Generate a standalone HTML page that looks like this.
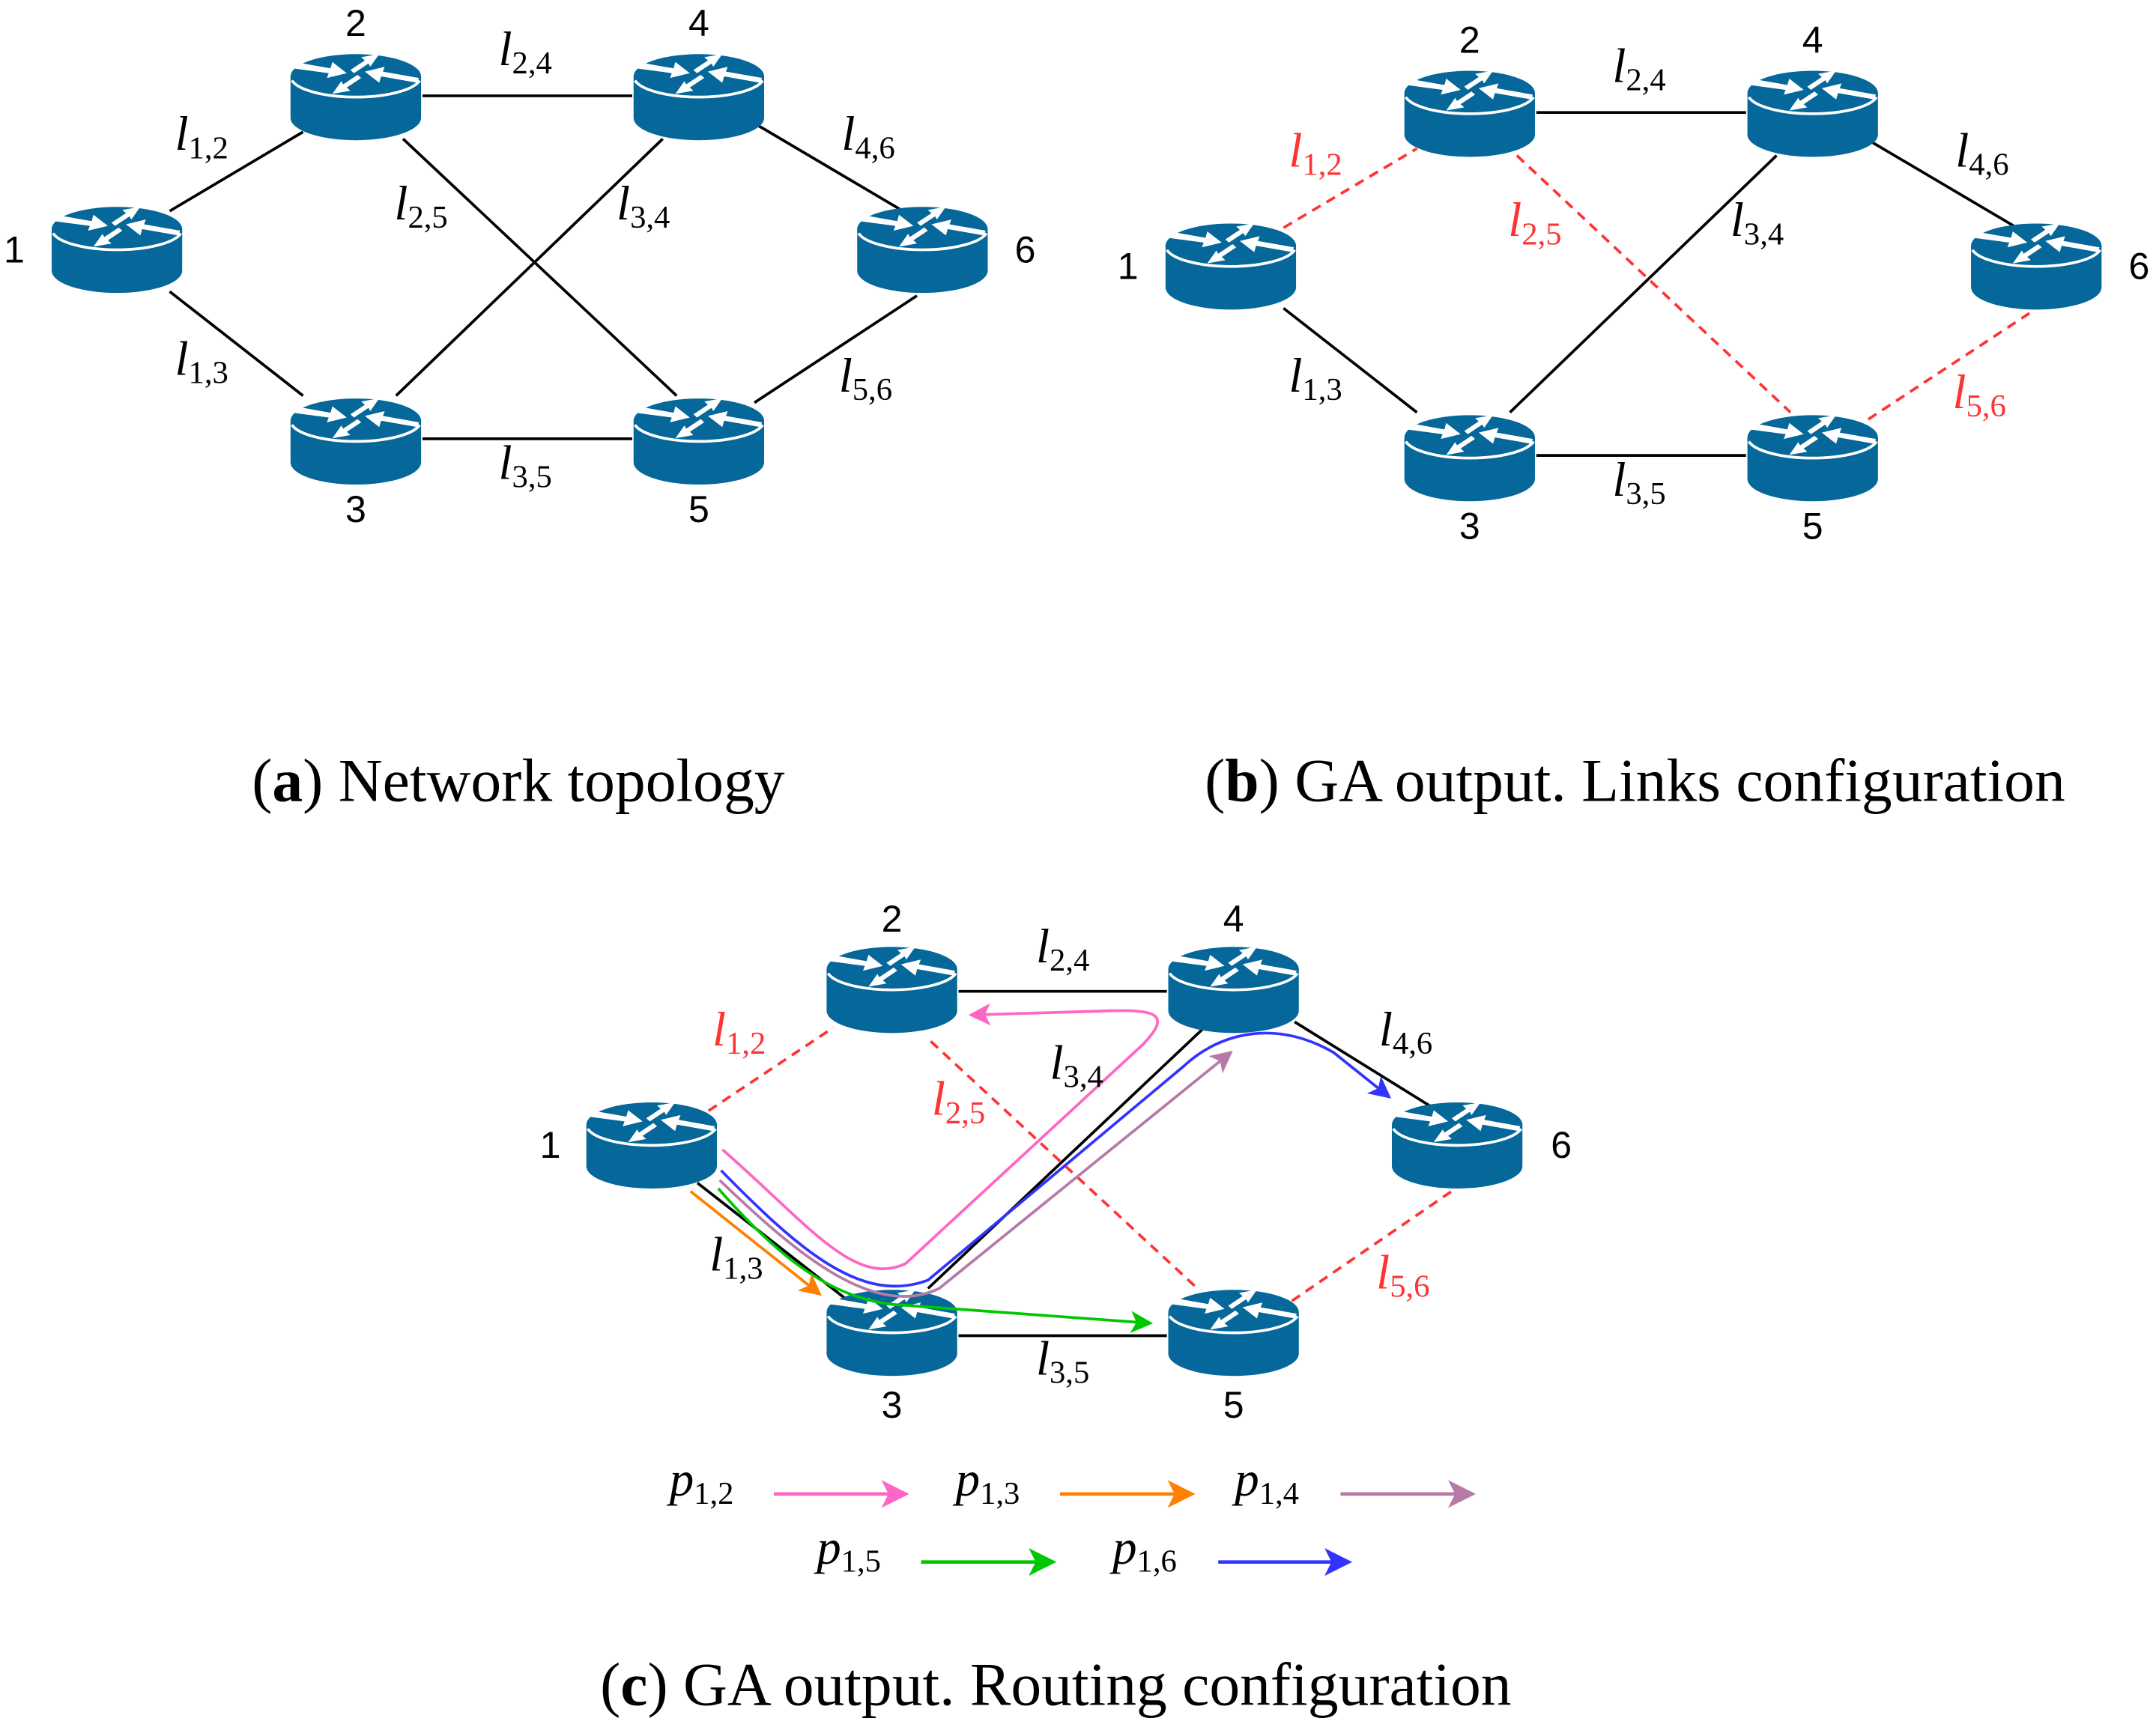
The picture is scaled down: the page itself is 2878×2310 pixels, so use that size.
<!DOCTYPE html>
<html><head><meta charset="utf-8"><style>
html,body{margin:0;padding:0;background:#fff;}
svg{display:block;}
.n{font-family:"Liberation Sans",sans-serif;font-size:27px;text-anchor:middle;}
.l{font-family:"Liberation Serif",serif;font-style:italic;font-size:35px;text-anchor:middle;}
.s{font-style:normal;font-size:23px;}
.cap{font-family:"Liberation Serif",serif;font-size:44px;text-anchor:middle;}
.r{fill:#ff3333;}
</style></head><body>
<svg width="2878" height="2310" viewBox="0 0 1552 1246" xmlns="http://www.w3.org/2000/svg">
<defs>
<g id="rt">
<path d="M-47,0 L-47,30 A47,16 0 0 0 47,30 L47,0 Z" fill="#05679a"/>
<ellipse cx="0" cy="0" rx="47" ry="16" fill="#05679a"/>
<path d="M-46,3 A47,15 0 0 0 46,3" fill="none" stroke="#fff" stroke-width="2"/>
<g fill="#fff" stroke="none" transform="scale(1.3,1.15)">
<path d="M-34,-9 L-14,-5 L-13,-9 L-5,-2 L-16,1 L-15,-2 L-35,-5 Z"/>
<path d="M34,4 L14,0 L13,4 L5,-3 L16,-6 L15,-3 L35,1 Z"/>
<path d="M-3,-4 L5,-10 L3,-12 L13,-14 L8,-6 L7,-8 L-1,-2 Z"/>
<path d="M3,1 L-5,7 L-3,9 L-13,11 L-8,3 L-7,5 L1,-1 Z"/>
</g>
</g>
<marker id="aP" markerWidth="8" markerHeight="8" refX="7" refY="4" orient="auto" markerUnits="strokeWidth"><path d="M0,0 L8,4 L0,8 L2,4 Z" fill="#ff66c4"/></marker>
<marker id="aO" markerWidth="8" markerHeight="8" refX="7" refY="4" orient="auto" markerUnits="strokeWidth"><path d="M0,0 L8,4 L0,8 L2,4 Z" fill="#ff8000"/></marker>
<marker id="aU" markerWidth="8" markerHeight="8" refX="7" refY="4" orient="auto" markerUnits="strokeWidth"><path d="M0,0 L8,4 L0,8 L2,4 Z" fill="#b77aa8"/></marker>
<marker id="aG" markerWidth="8" markerHeight="8" refX="7" refY="4" orient="auto" markerUnits="strokeWidth"><path d="M0,0 L8,4 L0,8 L2,4 Z" fill="#00c800"/></marker>
<marker id="aB" markerWidth="8" markerHeight="8" refX="7" refY="4" orient="auto" markerUnits="strokeWidth"><path d="M0,0 L8,4 L0,8 L2,4 Z" fill="#3333ff"/></marker>
</defs>

<!-- Panel a -->
<g stroke="#000" stroke-width="2" fill="none">
<line x1="122" y1="152" x2="218" y2="95"/>
<line x1="122" y1="210" x2="218" y2="285"/>
<line x1="304" y1="69" x2="455" y2="69"/>
<line x1="304" y1="316" x2="455" y2="316"/>
<line x1="290" y1="100" x2="487" y2="285"/>
<line x1="285" y1="285" x2="477" y2="100"/>
<line x1="545" y1="90" x2="650" y2="152"/>
<line x1="543" y1="290" x2="660" y2="213"/>
</g>
<use href="#rt" x="84" y="165"/><use href="#rt" x="256" y="55"/><use href="#rt" x="503" y="55"/>
<use href="#rt" x="664" y="165"/><use href="#rt" x="256" y="303"/><use href="#rt" x="503" y="303"/>
<text class="n" x="256" y="26">2</text><text class="n" x="503" y="26">4</text>
<text class="n" x="10" y="189">1</text><text class="n" x="738" y="189">6</text>
<text class="n" x="256" y="376">3</text><text class="n" x="503" y="376">5</text>
<text class="l" x="145" y="108">l<tspan class="s" dy="6">1,2</tspan></text>
<text class="l" x="378" y="47">l<tspan class="s" dy="6">2,4</tspan></text>
<text class="l" x="625" y="108">l<tspan class="s" dy="6">4,6</tspan></text>
<text class="l" x="303" y="158">l<tspan class="s" dy="6">2,5</tspan></text>
<text class="l" x="463" y="158">l<tspan class="s" dy="6">3,4</tspan></text>
<text class="l" x="145" y="270">l<tspan class="s" dy="6">1,3</tspan></text>
<text class="l" x="378" y="345">l<tspan class="s" dy="6">3,5</tspan></text>
<text class="l" x="623" y="282">l<tspan class="s" dy="6">5,6</tspan></text>

<!-- Panel b -->
<g transform="translate(802,12)">
<g stroke="#000" stroke-width="2" fill="none">
<line x1="122" y1="210" x2="218" y2="285"/>
<line x1="304" y1="69" x2="455" y2="69"/>
<line x1="304" y1="316" x2="455" y2="316"/>
<line x1="285" y1="285" x2="477" y2="100"/>
<line x1="545" y1="90" x2="650" y2="152"/>
</g>
<g stroke="#ff3333" stroke-width="2" stroke-dasharray="7,5" fill="none">
<line x1="122" y1="152" x2="218" y2="95"/>
<line x1="290" y1="100" x2="487" y2="285"/>
<line x1="543" y1="290" x2="660" y2="213"/>
</g>
<use href="#rt" x="84" y="165"/><use href="#rt" x="256" y="55"/><use href="#rt" x="503" y="55"/>
<use href="#rt" x="664" y="165"/><use href="#rt" x="256" y="303"/><use href="#rt" x="503" y="303"/>
<text class="n" x="256" y="26">2</text><text class="n" x="503" y="26">4</text>
<text class="n" x="10" y="189">1</text><text class="n" x="738" y="189">6</text>
<text class="n" x="256" y="376">3</text><text class="n" x="503" y="376">5</text>
<text class="l r" x="145" y="108">l<tspan class="s" dy="6">1,2</tspan></text>
<text class="l" x="378" y="47">l<tspan class="s" dy="6">2,4</tspan></text>
<text class="l" x="625" y="108">l<tspan class="s" dy="6">4,6</tspan></text>
<text class="l r" x="303" y="158">l<tspan class="s" dy="6">2,5</tspan></text>
<text class="l" x="463" y="158">l<tspan class="s" dy="6">3,4</tspan></text>
<text class="l" x="145" y="270">l<tspan class="s" dy="6">1,3</tspan></text>
<text class="l" x="378" y="345">l<tspan class="s" dy="6">3,5</tspan></text>
<text class="l r" x="623" y="282">l<tspan class="s" dy="6">5,6</tspan></text>
</g>

<text class="cap" x="373" y="577">(<tspan font-weight="bold">a</tspan>) Network topology</text>
<text class="cap" x="1177" y="577">(<tspan font-weight="bold">b</tspan>) GA output. Links configuration</text>

<!-- Panel c -->
<g stroke="#000" stroke-width="2" fill="none">
<line x1="502" y1="852" x2="612" y2="938"/>
<line x1="668" y1="928" x2="867" y2="740"/>
<line x1="690" y1="714" x2="840" y2="714"/>
<line x1="690" y1="962" x2="840" y2="962"/>
<line x1="932" y1="736" x2="1035" y2="800"/>
</g>
<g stroke="#ff3333" stroke-width="2" stroke-dasharray="7,5" fill="none">
<line x1="510" y1="800" x2="600" y2="740"/>
<line x1="670" y1="750" x2="862" y2="928"/>
<line x1="930" y1="937" x2="1045" y2="858"/>
</g>
<use href="#rt" x="469" y="810"/><use href="#rt" x="642" y="698"/><use href="#rt" x="888" y="698"/>
<use href="#rt" x="1049" y="810"/><use href="#rt" x="642" y="945"/><use href="#rt" x="888" y="945"/>
<g fill="none" stroke-width="2">
<path d="M520,828 C580,880 615,928 652,910 L823,752 C842,732 835,727 800,728 L699,731" stroke="#ff66c4" marker-end="url(#aP)"/>
<path d="M519,843 C575,900 620,940 668,922 L852,768 C880,742 920,735 960,758 L1000,790" stroke="#3333ff" marker-end="url(#aB)"/>
<path d="M518,850 C575,905 630,950 676,928 L886,758" stroke="#b77aa8" marker-end="url(#aU)"/>
<path d="M517,856 C560,905 600,938 650,940 C720,945 780,950 828,953" stroke="#00c800" marker-end="url(#aG)"/>
<path d="M497,858 L590,932" stroke="#ff8000" marker-end="url(#aO)"/>
</g>
<text class="n" x="642" y="671">2</text><text class="n" x="888" y="671">4</text>
<text class="n" x="396" y="834">1</text><text class="n" x="1124" y="834">6</text>
<text class="n" x="642" y="1021">3</text><text class="n" x="888" y="1021">5</text>
<text class="l r" x="532" y="753">l<tspan class="s" dy="6">1,2</tspan></text>
<text class="l" x="765" y="693">l<tspan class="s" dy="6">2,4</tspan></text>
<text class="l" x="775" y="777">l<tspan class="s" dy="6">3,4</tspan></text>
<text class="l r" x="690" y="803">l<tspan class="s" dy="6">2,5</tspan></text>
<text class="l" x="1012" y="753">l<tspan class="s" dy="6">4,6</tspan></text>
<text class="l" x="530" y="915">l<tspan class="s" dy="6">1,3</tspan></text>
<text class="l" x="765" y="990">l<tspan class="s" dy="6">3,5</tspan></text>
<text class="l r" x="1010" y="928">l<tspan class="s" dy="6">5,6</tspan></text>

<!-- Legend -->
<text class="l" x="505" y="1077">p<tspan class="s" dy="6">1,2</tspan></text>
<text class="l" x="711" y="1077">p<tspan class="s" dy="6">1,3</tspan></text>
<text class="l" x="912" y="1077">p<tspan class="s" dy="6">1,4</tspan></text>
<text class="l" x="611" y="1126">p<tspan class="s" dy="6">1,5</tspan></text>
<text class="l" x="824" y="1126">p<tspan class="s" dy="6">1,6</tspan></text>
<g stroke-width="2.5" fill="none">
<line x1="557" y1="1076" x2="652" y2="1076" stroke="#ff66c4" marker-end="url(#aP)"/>
<line x1="763" y1="1076" x2="858" y2="1076" stroke="#ff8000" marker-end="url(#aO)"/>
<line x1="965" y1="1076" x2="1060" y2="1076" stroke="#b77aa8" marker-end="url(#aU)"/>
<line x1="663" y1="1125" x2="758" y2="1125" stroke="#00c800" marker-end="url(#aG)"/>
<line x1="877" y1="1125" x2="971" y2="1125" stroke="#3333ff" marker-end="url(#aB)"/>
</g>
<text class="cap" x="760" y="1228">(<tspan font-weight="bold">c</tspan>) GA output. Routing configuration</text>
</svg>
</body></html>
